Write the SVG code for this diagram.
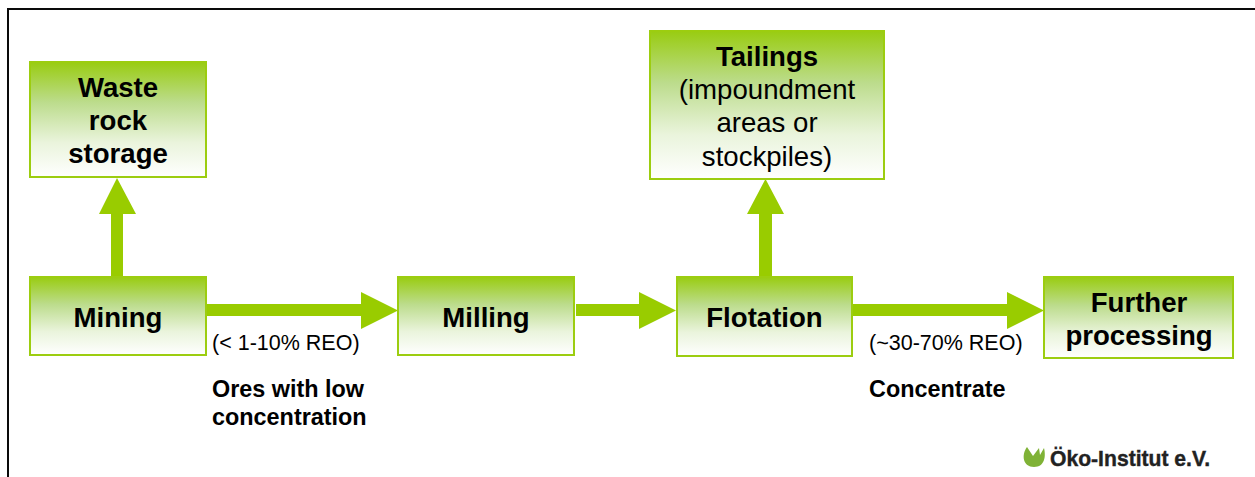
<svg xmlns="http://www.w3.org/2000/svg" width="1255" height="477" viewBox="0 0 1255 477">
<style>
.box{fill:url(#g);stroke:#9ccd10;stroke-width:2}
.arrow{fill:#99cc00}
text{font-family:"Liberation Sans",Arial,sans-serif;text-anchor:middle;fill:#000}
.b{font-size:27.6px;font-weight:bold}
.r{font-size:27.6px}
.l{font-size:21.5px;text-anchor:start}
.lb{font-size:23.4px;font-weight:bold;text-anchor:start}
</style>
<defs>
<linearGradient id="g" x1="0" y1="0" x2="0" y2="1">
<stop offset="0" stop-color="#99cc11"/>
<stop offset="0.35" stop-color="#bcdc8c"/>
<stop offset="0.7" stop-color="#eaf4dc"/>
<stop offset="1" stop-color="#ffffff"/>
</linearGradient>
</defs>
<rect width="1255" height="477" fill="#fff"/>
<path d="M8 477V9H1255" fill="none" stroke="#0a0a0a" stroke-width="2"/>
<g id="connectors">
<path class="arrow" d="M111 276V214H99L117 178L136 214H123V276Z"/>
<path class="arrow" d="M207 304H361V292L398 310.500L361 329V316H207Z"/>
<path class="arrow" d="M576 304H639V292L676 310.500L639 329V316H576Z"/>
<path class="arrow" d="M759 277V214H747L765.500 179L784 214H772V277Z"/>
<path class="arrow" d="M852 304H1007V292L1044 310.500L1007 329V316H852Z"/>
</g>
<g id="waste"><rect class="box" x="30" y="62" width="176" height="115"/>
<text class="b" x="118" y="97">Waste</text><text class="b" x="118" y="130">rock</text><text class="b" x="118" y="163">storage</text></g>
<g id="mining"><rect class="box" x="30" y="277" width="176" height="78"/>
<text class="b" x="118" y="327">Mining</text></g>
<g id="milling"><rect class="box" x="398" y="277" width="176" height="78"/>
<text class="b" x="486" y="327">Milling</text></g>
<g id="flotation"><rect class="box" x="677" y="277" width="175" height="79"/>
<text class="b" x="764.500" y="327">Flotation</text></g>
<g id="further"><rect class="box" x="1044" y="277" width="189" height="81"/>
<text class="b" x="1139" y="312">Further</text><text class="b" x="1139" y="345">processing</text></g>
<g id="tailings"><rect class="box" x="650" y="31" width="234" height="148"/>
<text class="b" x="767" y="66">Tailings</text><text class="r" x="767" y="99">(impoundment</text><text class="r" x="767" y="132">areas or</text><text class="r" x="767" y="166">stockpiles)</text></g>
<g id="labels">
<text class="l" x="212" y="350">(&lt; 1-10% REO)</text>
<text class="lb" x="212" y="397">Ores with low</text>
<text class="lb" x="212" y="425">concentration</text>
<text class="l" x="869" y="350">(~30-70% REO)</text>
<text class="lb" x="869" y="397">Concentrate</text>
</g>
<g id="logo">
<path fill="#7fb236" d="M1027 447C1021 455 1023 467 1034 467C1045 467 1046 456 1044 448L1040 455L1039 448L1033 456Z"/>
<text x="1050" y="466" style="text-anchor:start;font-size:22px;font-weight:bold;fill:#222;stroke:#222;stroke-width:.4" textLength="160" lengthAdjust="spacingAndGlyphs">Öko-Institut e.V.</text>
</g>
</svg>
